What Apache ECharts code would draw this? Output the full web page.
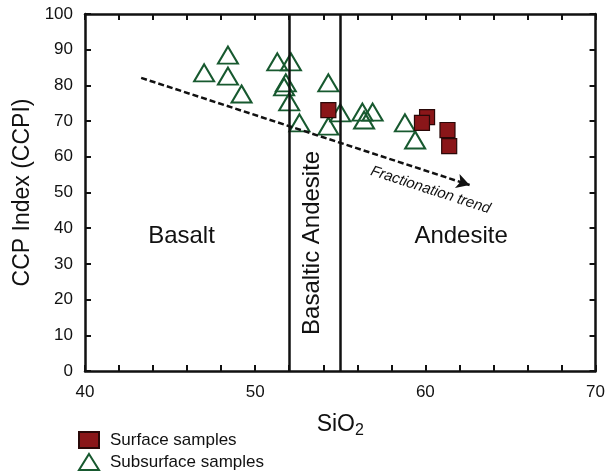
<!DOCTYPE html>
<html>
<head>
<meta charset="utf-8">
<script src="https://cdn.jsdelivr.net/npm/echarts@6/dist/echarts.min.js"></script>
<style>
  html, body { margin: 0; padding: 0; background: #fff; }
  #chart { width: 608px; height: 475px; }
</style>
</head>
<body>
<div id="chart"></div>
<script>
// SiO2 vs CCPI diagram
const FONT = "'Liberation Sans', Arial, sans-serif";

// subsurface samples (open triangles)
const subSiO2 = [47.0, 48.4, 48.4, 49.2, 51.3, 52.1, 51.8, 51.7, 52.0, 52.6, 54.3, 54.3, 55.0, 56.3, 56.9, 56.4, 58.8, 59.4];
const subCCPI = [83.5, 88.5, 82.6, 77.6, 86.6, 86.6, 80.7, 79.6, 75.4, 69.5, 80.7, 68.6, 72.3, 72.5, 72.5, 70.3, 69.5, 64.7];

// surface samples (filled squares)
const surfSiO2 = [54.3, 60.1, 59.8, 61.3, 61.4];
const surfCCPI = [73.1, 71.1, 69.5, 67.5, 63.0];

// field boundaries and trend arrow
const boundaries = [52, 55];
const trendStart = [43.3, 82.1];
const trendEnd = [62.6, 52.1];

// field names
const fieldNames = ['Basalt', 'Andesite', 'Basaltic Andesite', 'Fractionation trend'];
const fieldX = [45.67, 62.1, 53.37, 60.3];
const fieldY = [37.8, 37.8, 35.9, 50.7];

const zip = (a, b) => a.map((v, i) => [v, b[i]]);

const chart = echarts.init(document.getElementById('chart'), null, { renderer: 'canvas' });

const axisBase = {
  type: 'value',
  axisLine: { show: true, onZero: false, lineStyle: { color: '#111', width: 2.5 } },
  axisTick: { show: true, inside: true, length: 6, lineStyle: { color: '#111', width: 2 } },
  splitLine: { show: false },
};

chart.setOption({
  backgroundColor: '#fff',
  animation: false,
  textStyle: { fontFamily: FONT },
  grid: { left: 85, right: 10, top: 14, bottom: 104 },
  legend: {
    data: ['Surface samples', 'Subsurface samples'],
    orient: 'vertical',
    left: 78,
    top: 431,
    padding: 0,
    itemWidth: 20,
    itemHeight: 16,
    itemGap: 4,
    textStyle: { fontFamily: FONT, fontSize: 17, color: '#111', padding: [0, 0, 0, 6] },
  },
  xAxis: [
    {
      ...axisBase,
      min: 40, max: 70, interval: 2,
      name: '{a|SiO}{b|2}',
      nameLocation: 'middle',
      nameGap: 40,
      nameTextStyle: {
        rich: {
          a: { fontFamily: FONT, fontSize: 23, color: '#111', lineHeight: 28 },
          b: { fontFamily: FONT, fontSize: 16, color: '#111', lineHeight: 12, verticalAlign: 'bottom' },
        },
      },
      axisLabel: {
        fontFamily: FONT, fontSize: 17, color: '#111', margin: 13,
        formatter: (v) => (v % 10 === 0 ? String(v) : ''),
      },
    },
    { ...axisBase, min: 40, max: 70, interval: 2, position: 'top', axisLabel: { show: false } },
  ],
  yAxis: [
    {
      ...axisBase,
      min: 0, max: 100, interval: 10,
      name: 'CCP Index (CCPI)',
      nameLocation: 'middle',
      nameGap: 49,
      nameTextStyle: { fontFamily: FONT, fontSize: 23, color: '#111' },
      axisLabel: { fontFamily: FONT, fontSize: 17, color: '#111', margin: 12 },
    },
    { ...axisBase, min: 0, max: 100, interval: 10, position: 'right', axisLabel: { show: false } },
  ],
  series: [
    {
      name: 'fields',
      type: 'scatter',
      symbolSize: 0,
      silent: true,
      itemStyle: { opacity: 1 },
      data: fieldNames.map((n, i) => ({
        value: [fieldX[i], fieldY[i]],
        name: n,
        label: i === 2 ? { rotate: 90 } : i === 3 ? { rotate: -18, fontSize: 15, fontStyle: 'italic' } : {},
      })),
      label: {
        show: true,
        position: 'inside',
        formatter: (p) => p.name,
        fontFamily: FONT,
        fontSize: 24,
        color: '#111',
      },
      markLine: {
        silent: true,
        animation: false,
        symbol: ['none', 'none'],
        label: { show: false },
        data: [
          ...boundaries.map((b) => ({
            xAxis: b,
            lineStyle: { color: '#111', width: 2.5, type: 'solid' },
          })),
          [
            { coord: trendStart, symbol: 'none' },
            { coord: trendEnd, symbol: 'arrow', symbolSize: [11, 13] },
          ],
        ],
        lineStyle: { color: '#111', width: 2.5, type: [6, 3] },
      },
    },
    {
      name: 'Subsurface samples',
      type: 'scatter',
      symbol: 'triangle',
      symbolSize: [20, 17],
      data: zip(subSiO2, subCCPI),
      itemStyle: { opacity: 1, color: 'rgba(255,255,255,0)', borderColor: '#17592f', borderWidth: 2 },
    },
    {
      name: 'Surface samples',
      type: 'scatter',
      symbol: 'rect',
      symbolSize: 15,
      data: zip(surfSiO2, surfCCPI),
      itemStyle: { opacity: 1, color: '#8a1619', borderColor: '#2a0808', borderWidth: 1.2 },
    },
  ],
});
</script>
</body>
</html>
